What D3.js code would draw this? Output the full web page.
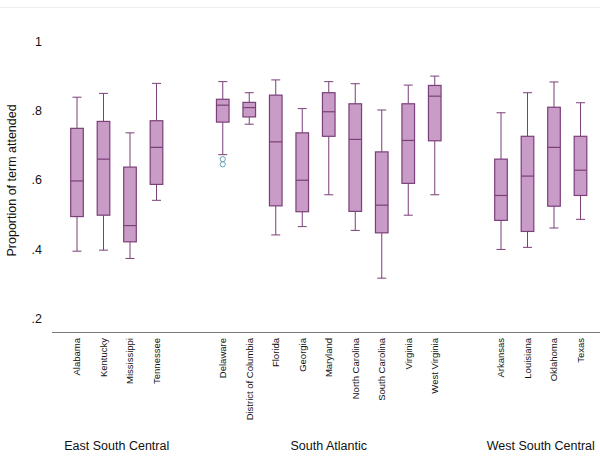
<!DOCTYPE html>
<html>
<head>
<meta charset="utf-8">
<script src="https://cdn.jsdelivr.net/npm/d3@7/dist/d3.min.js"></script>
<style>
  html, body { margin: 0; padding: 0; background: #fff; }
  svg { display: block; font-family: "Liberation Sans", Arial, sans-serif; }
</style>
</head>
<body>
<svg id="chart" width="600" height="456"></svg>
<script>
// Census divisions and the states in each
const divisions = ["East South Central", "South Atlantic", "West South Central"];
const divisionStates = [
  ["Alabama", "Kentucky", "Mississippi", "Tennessee"],
  ["Delaware", "District of Columbia", "Florida", "Georgia", "Maryland",
   "North Carolina", "South Carolina", "Virginia", "West Virginia"],
  ["Arkansas", "Louisiana", "Oklahoma", "Texas"]
];

// Five-number summaries per state (proportion of term attended)
const whiskerLow  = [0.394, 0.397, 0.373, 0.541,  0.673, 0.761, 0.441, 0.465, 0.557, 0.454, 0.316, 0.498, 0.557,  0.399, 0.405, 0.461, 0.486];
const q1          = [0.494, 0.498, 0.421, 0.587,  0.767, 0.782, 0.525, 0.508, 0.726, 0.509, 0.447, 0.590, 0.713,  0.483, 0.451, 0.524, 0.555];
const median      = [0.597, 0.660, 0.468, 0.694,  0.816, 0.809, 0.710, 0.599, 0.797, 0.717, 0.527, 0.714, 0.842,  0.555, 0.611, 0.694, 0.628];
const q3          = [0.749, 0.769, 0.637, 0.771,  0.833, 0.824, 0.845, 0.736, 0.852, 0.820, 0.681, 0.820, 0.873,  0.660, 0.726, 0.810, 0.726];
const whiskerHigh = [0.839, 0.850, 0.736, 0.879,  0.884, 0.852, 0.889, 0.806, 0.884, 0.878, 0.802, 0.874, 0.900,  0.794, 0.852, 0.883, 0.823];

// Points beyond the whiskers
const outlierStates = ["Delaware", "Delaware"];
const outlierValues = [0.660, 0.645];

const yTicks = [0.2, 0.4, 0.6, 0.8, 1];
const yTitle = "Proportion of term attended";

// Build the per-state table, with a slot position that leaves a gap between divisions
const states = [];
let slot = 0;
divisionStates.forEach((list, gi) => {
  list.forEach(name => {
    states.push({ name, division: divisions[gi], slot });
    slot += 1;
  });
  slot += 1.5;
});
states.forEach((s, i) => {
  s.lo = whiskerLow[i]; s.q1 = q1[i]; s.med = median[i]; s.q3 = q3[i]; s.hi = whiskerHigh[i];
});

const svg = d3.select("#chart");
const fillColor = "#c99bc7";
const lineColor = "#7b3f79";

const maxSlot = d3.max(states, d => d.slot);
const x = d3.scaleLinear().domain([0, maxSlot]).range([77, 580.5]);
const y = d3.scaleLinear().domain([0.2, 1]).range([318.3, 41.5]);

const boxW = 12.6;
const capW = 9;

// faint frame line along the top
svg.append("line")
  .attr("x1", 0).attr("x2", 600).attr("y1", 7.5).attr("y2", 7.5)
  .attr("stroke", "#ededed").attr("stroke-width", 1);

// y axis: labels only
const yAxis = d3.axisLeft(y)
  .tickValues(yTicks)
  .tickSize(0)
  .tickPadding(0)
  .tickFormat(d => d === 1 ? "1" : d3.format(".1f")(d).replace(/^0/, ""));
const yg = svg.append("g").attr("transform", "translate(42,0)").call(yAxis);
yg.select(".domain").remove();
yg.selectAll("text")
  .attr("font-size", "12.5px")
  .attr("font-family", "Liberation Sans, Arial, sans-serif")
  .attr("fill", "#111");

svg.append("text")
  .attr("transform", `translate(16,${(y(0.4) + y(0.8)) / 2 + 0.5}) rotate(-90)`)
  .attr("text-anchor", "middle")
  .attr("font-size", "12.5px")
  .attr("fill", "#111")
  .text(yTitle);

// baseline
svg.append("line")
  .attr("x1", 52).attr("x2", 600)
  .attr("y1", 332.5).attr("y2", 332.5)
  .attr("stroke", "#7a7a7a").attr("stroke-width", 1);

// boxes
const g = svg.append("g").selectAll("g.box").data(states).join("g").attr("class", "box");

g.append("line")
  .attr("x1", d => x(d.slot)).attr("x2", d => x(d.slot))
  .attr("y1", d => y(d.hi)).attr("y2", d => y(d.q3))
  .attr("stroke", lineColor).attr("stroke-width", 1);
g.append("line")
  .attr("x1", d => x(d.slot)).attr("x2", d => x(d.slot))
  .attr("y1", d => y(d.q1)).attr("y2", d => y(d.lo))
  .attr("stroke", lineColor).attr("stroke-width", 1);
g.append("line")
  .attr("x1", d => x(d.slot) - capW / 2).attr("x2", d => x(d.slot) + capW / 2)
  .attr("y1", d => y(d.hi)).attr("y2", d => y(d.hi))
  .attr("stroke", lineColor).attr("stroke-width", 1);
g.append("line")
  .attr("x1", d => x(d.slot) - capW / 2).attr("x2", d => x(d.slot) + capW / 2)
  .attr("y1", d => y(d.lo)).attr("y2", d => y(d.lo))
  .attr("stroke", lineColor).attr("stroke-width", 1);
g.append("rect")
  .attr("x", d => x(d.slot) - boxW / 2)
  .attr("width", boxW)
  .attr("y", d => y(d.q3))
  .attr("height", d => y(d.q1) - y(d.q3))
  .attr("fill", fillColor)
  .attr("stroke", lineColor).attr("stroke-width", 1.2);
g.append("line")
  .attr("x1", d => x(d.slot) - boxW / 2).attr("x2", d => x(d.slot) + boxW / 2)
  .attr("y1", d => y(d.med)).attr("y2", d => y(d.med))
  .attr("stroke", lineColor).attr("stroke-width", 1.2);

// outliers
const slotOf = Object.fromEntries(states.map(s => [s.name, s.slot]));
svg.append("g").selectAll("circle")
  .data(outlierValues.map((v, i) => ({ state: outlierStates[i], v })))
  .join("circle")
  .attr("cx", d => x(slotOf[d.state]))
  .attr("cy", d => y(d.v))
  .attr("r", 2.6)
  .attr("fill", "none")
  .attr("stroke", "#6aa3b9")
  .attr("stroke-width", 1);

// state labels, rotated
svg.append("g").selectAll("text")
  .data(states)
  .join("text")
  .attr("transform", d => `translate(${x(d.slot) + 3.3},338) rotate(-90)`)
  .attr("text-anchor", "end")
  .attr("font-size", "9.5px")
  .attr("fill", "#111")
  .text(d => d.name);

// division labels
svg.append("g").selectAll("text")
  .data(divisions)
  .join("text")
  .attr("x", dv => {
    const ss = states.filter(s => s.division === dv);
    return (x(ss[0].slot) + x(ss[ss.length - 1].slot)) / 2;
  })
  .attr("y", 450)
  .attr("text-anchor", "middle")
  .attr("font-size", "12.5px")
  .attr("fill", "#111")
  .text(d => d);
</script>
</body>
</html>
